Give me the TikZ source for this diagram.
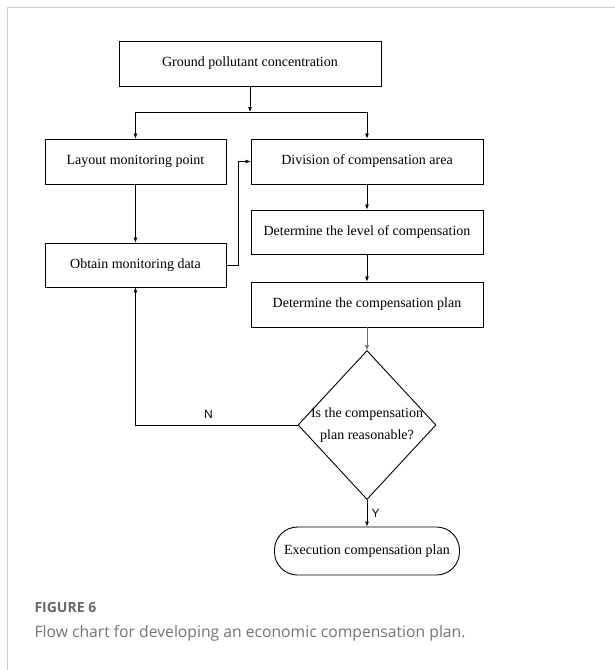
\documentclass[tikz,border=0pt]{standalone}
\usepackage{fontspec}
\setmainfont{Liberation Serif}
\newfontfamily\labelfont{Liberation Sans}
\newfontfamily\capfont{Open Sans}
\usetikzlibrary{positioning}
\usetikzlibrary{shapes,arrows.meta}

\tikzset{
  box/.style={draw, line width=0.9pt, minimum height=45pt, inner sep=2pt, font=\fontsize{14}{16}\selectfont},
  decision/.style={draw, diamond, line width=0.9pt, minimum width=138pt, minimum height=149pt, inner sep=0pt},
  terminal/.style={draw, line width=0.9pt, rounded corners=23pt, minimum width=185pt, minimum height=48pt, font=\fontsize{14}{16}\selectfont},
  link/.style={line width=0.7pt, -{Latex[length=5pt,width=4pt]}},
  yn/.style={font=\labelfont\fontsize{12}{14}\selectfont}
}

\begin{document}
\begin{tikzpicture}[x=1pt,y=-1pt]
\useasboundingbox (0,0) rectangle (615,670);
\draw[black!20, line width=0.8pt] (7,670) -- (7,7) -- (615,7);

% boxes
\node[box, minimum width=262pt] (ground) at (250,63.5) {Ground pollutant concentration};
\node[box, minimum width=181pt] (layout) at (135.5,161.5) {Layout monitoring point};
\node[box, minimum width=232pt] (division) at (367,161.5) {Division of compensation  area};
\node[box, minimum width=232pt, minimum height=44pt] (level) at (367,232) {Determine the level of compensation};
\node[box, minimum width=181pt, minimum height=44pt] (obtain) at (135.5,265) {Obtain monitoring data};
\node[box, minimum width=232pt] (plan) at (367,304.5) {Determine the compensation plan};
\node[decision, label={[align=center, font=\fontsize{14}{22}\selectfont]center:Is the compensation\\plan reasonable?}] (check) at (367,425) {};
\node[terminal] (exec) at (367,551) {Execution compensation plan};
\coordinate (split) at (250,112);

% connectors
\draw[link] (ground) -- (split);
\draw[link] (split) -| (layout);
\draw[link] (split) -| (division);
\draw[link] (layout) -- (obtain);
\draw[link] (obtain.east) -- ++(12,0) |- (division.west);
\draw[link] (division) -- (level);
\draw[link] (level) -- (plan);
\draw[link, line width=0.4pt, black!60] (plan) -- (check);
\draw[link] (check.west) -| node[pos=0.275, above=3pt, yn] {N} (obtain.south);
\draw[link] (check.south) -- node[right=1pt, yn] {Y} (exec.north);

% caption
\node[anchor=west, text=black!60, font=\capfont\bfseries\fontsize{14}{16}\selectfont] (fignum) at (31,607) {FIGURE 6};
\node[anchor=west, text=black!55, font=\capfont\fontsize{15.7}{18}\selectfont] (figcap) at (31,633) {Flow chart for developing an economic compensation plan.};
\end{tikzpicture}
\end{document}
